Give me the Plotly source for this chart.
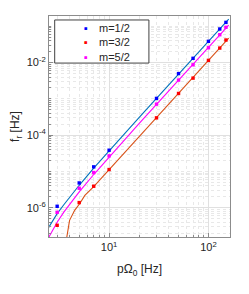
import plotly.graph_objects as go

# ---- data ----
p_pts = [3, 5, 7, 10, 30, 50, 70, 100, 130, 150]
f_m12 = [1.10e-6, 4.83e-6, 1.34e-5, 3.85e-5, 1.03e-3, 4.97e-3, 1.31e-2, 3.85e-2, 8.4e-2, 0.128]
f_m32 = [3.29e-7, 1.39e-6, 3.92e-6, 1.13e-5, 3.0e-4, 1.41e-3, 3.73e-3, 1.15e-2, 2.51e-2, 4.18e-2]
f_m52 = [7.5e-7, 3.45e-6, 9.35e-6, 2.69e-5, 7.16e-4, 3.29e-3, 8.7e-3, 2.56e-2, 5.85e-2, 9.35e-2]

# fitted curves
p_line_12 = [2.45, 2.75, 3, 3.5, 4, 5, 7, 10, 20, 30, 50, 70, 100, 130, 160]
f_line_12 = [2.8e-7, 4.7e-7, 6.9e-7, 1.21e-6, 1.96e-6, 4.17e-6, 1.23e-5, 3.72e-5,
             3.05e-4, 1.036e-3, 4.8e-3, 1.32e-2, 3.85e-2, 8.45e-2, 0.1577]
p_line_52 = [2.45, 2.75, 3, 3.5, 4, 5, 7, 10, 20, 30, 50, 70, 100, 130, 160]
f_line_52 = [1.48e-7, 2.71e-7, 4.0e-7, 7.6e-7, 1.26e-6, 2.75e-6, 8.25e-6, 2.52e-5,
             2.08e-4, 7.07e-4, 3.28e-3, 9.01e-3, 2.63e-2, 5.78e-2, 0.1077]
p_line_32 = [3.62, 3.75, 4.0, 4.5, 5.07, 5.7, 7, 10, 20, 30, 50, 70, 100, 130, 160]
f_line_32 = [5e-8, 1.55e-7, 4.5e-7, 8.5e-7, 1.31e-6, 2.2e-6, 3.85e-6, 1.12e-5,
             9.2e-5, 3.05e-4, 1.42e-3, 3.9e-3, 1.15e-2, 2.5e-2, 4.7e-2]

labels = ["m=1/2", "m=3/2", "m=5/2"]
marker_colors = ["#0000FF", "#FF0000", "#FF00FF"]
line_colors = ["#0072BD", "#D95319", "#FF00FF"]
x_tickvals = [10, 100]
x_ticktext = ["10<sup>1</sup>", "10<sup>2</sup>"]
y_tickvals = [1e-6, 1e-4, 1e-2]
y_ticktext = ["10<sup>-6</sup>", "10<sup>-4</sup>", "10<sup>-2</sup>"]

FONT = "Liberation Sans, Arial, Helvetica"
fig = go.Figure()
line_w = 1.1
for px, fy, col in [(p_line_12, f_line_12, line_colors[0]),
                    (p_line_32, f_line_32, line_colors[1]),
                    (p_line_52, f_line_52, line_colors[2])]:
    fig.add_trace(go.Scatter(x=px, y=fy, mode="lines",
                             line=dict(color=col, width=line_w), showlegend=False))

for f, lab, col in zip([f_m12, f_m32, f_m52], labels, marker_colors):
    fig.add_trace(go.Scatter(x=p_pts, y=f, mode="markers", name=lab, showlegend=False,
                             marker=dict(color=col, size=3.4, symbol="square")))

minor_x = [m * 10 ** d for d in range(0, 3) for m in range(2, 10)]
minor_y = [m * 10 ** d for d in range(-8, 1) for m in range(1, 10)]

axis_common = dict(
    type="log", showline=True, linecolor="#8c8c8c", linewidth=1, mirror=True,
    ticks="inside", ticklen=4, tickcolor="#8c8c8c", automargin=False,
    showgrid=True, gridcolor="#e0e0e0", gridwidth=1,
    zeroline=False, tickfont=dict(family=FONT, size=11, color="#262626"),
)

fig.update_xaxes(**axis_common, range=[0.395, 2.217], tickmode="array",
                 tickvals=x_tickvals, ticktext=x_ticktext,
                 minor=dict(tickmode="array", tickvals=minor_x, showgrid=True,
                            gridcolor="#e8e8e8", griddash="dot", ticks="inside",
                            ticklen=2, tickcolor="#8c8c8c"),
                 title=dict(text="pΩ<sub>0</sub> [Hz]", standoff=12,
                            font=dict(family=FONT, size=12, color="#262626")))
fig.update_yaxes(**axis_common, range=[-6.805, -0.717], tickmode="array",
                 tickvals=y_tickvals, ticktext=y_ticktext,
                 minor=dict(tickmode="array", tickvals=minor_y, showgrid=True,
                            gridcolor="#e8e8e8", griddash="dot", ticks="inside",
                            ticklen=2, tickcolor="#8c8c8c"),
                 title=dict(text="f<sub>r</sub> [Hz]", standoff=7,
                            font=dict(family=FONT, size=12, color="#262626")))

# legend box drawn by hand (matches the compact MATLAB legend)
fig.add_shape(type="rect", xref="paper", yref="paper", x0=0.0315, x1=0.552,
              y0=0.787, y1=0.982, line=dict(color="#404040", width=1),
              fillcolor="white", layer="above")
sym_text = "<br>".join(f'<span style="color:{c}">▪</span>' for c in marker_colors)
fig.add_annotation(xref="paper", yref="paper", x=0.203, y=0.880, xanchor="center",
                   yanchor="middle", showarrow=False, align="center", text=sym_text,
                   font=dict(family=FONT, size=11))
fig.add_annotation(xref="paper", yref="paper", x=0.264, y=0.880, xanchor="left",
                   yanchor="middle", showarrow=False, align="left",
                   text="<br>".join(labels),
                   font=dict(family=FONT, size=11, color="#262626"))

# the page body adds an 8 px margin; size the figure so the plot lands where the reference has it
fig.update_layout(
    width=241, height=286,
    margin=dict(l=41, r=19, t=8, b=57),
    plot_bgcolor="white", paper_bgcolor="white",
    showlegend=False,
)

fig.write_html("out.html")
